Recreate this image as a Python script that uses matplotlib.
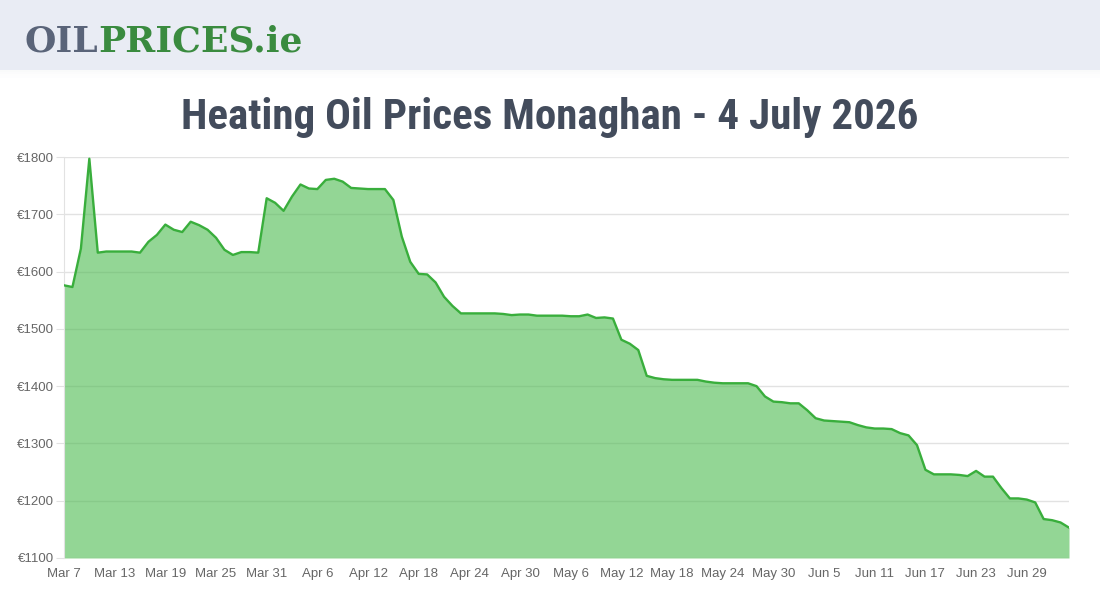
import pandas as pd
import matplotlib.pyplot as plt
from matplotlib.patches import Rectangle

# daily prices (EUR), 7 March -> 4 July 2026
dates = pd.date_range("2026-03-07", "2026-07-04", freq="D")
prices = [
    1576, 1573, 1640, 1797, 1633, 1635, 1635, 1635, 1635, 1633,
    1652, 1664, 1682, 1673, 1669, 1687, 1681, 1673, 1659, 1638,
    1629, 1634, 1634, 1633, 1728, 1720, 1706, 1731, 1752, 1745,
    1744, 1760, 1762, 1757, 1746, 1745, 1744, 1744, 1744, 1725,
    1661, 1617, 1596, 1595, 1581, 1556, 1540, 1527, 1527, 1527,
    1527, 1527, 1526, 1524, 1525, 1525, 1523, 1523, 1523, 1523,
    1522, 1522, 1525, 1519, 1520, 1518, 1481, 1474, 1463, 1418,
    1414, 1412, 1411, 1411, 1411, 1411, 1408, 1406, 1405, 1405,
    1405, 1405, 1400, 1382, 1373, 1372, 1370, 1370, 1358, 1344,
    1340, 1339, 1338, 1337, 1332, 1328, 1326, 1326, 1325, 1318,
    1314, 1297, 1254, 1246, 1246, 1246, 1245, 1243, 1252, 1242,
    1242, 1222, 1204, 1204, 1202, 1197, 1168, 1166, 1162, 1153,
]
tick_dates = pd.date_range("2026-03-07", "2026-07-04", freq="6D")
tick_labels = ["Mar 7", "Mar 13", "Mar 19", "Mar 25", "Mar 31", "Apr 6",
               "Apr 12", "Apr 18", "Apr 24", "Apr 30", "May 6", "May 12",
               "May 18", "May 24", "May 30", "Jun 5", "Jun 11", "Jun 17",
               "Jun 23", "Jun 29"]
y_ticks = [1100, 1200, 1300, 1400, 1500, 1600, 1700, 1800]
y_labels = ["€" + str(v) for v in y_ticks]

title = "Heating Oil Prices Monaghan - 4 July 2026"

fig = plt.figure(figsize=(11, 6), dpi=100)
fig.patch.set_facecolor("white")

# header band with logo
fig.patches.append(Rectangle((0, 1 - 70 / 600), 1, 70 / 600, transform=fig.transFigure,
                             facecolor="#e9ecf4", edgecolor="none", zorder=0))
for i, a in enumerate([0.05, 0.035, 0.02, 0.01]):
    fig.patches.append(Rectangle((0, 1 - (72 + 2 * i) / 600), 1, 2 / 600,
                                 transform=fig.transFigure, facecolor="#9aa0b0",
                                 alpha=a, edgecolor="none", zorder=0))
logo1 = fig.text(25 / 1100, 1 - 52 / 600, "OIL", color="#5a6479", fontsize=26,
                 fontweight="bold", family="DejaVu Serif", va="baseline")
fig.add_artist(plt.Annotation("PRICES.ie", xy=(1, 0), xycoords=logo1,
                              va="bottom", ha="left", color="#3a8b3f", fontsize=26,
                              fontweight="bold", family="DejaVu Serif"))

fig.text(0.5, 1 - 117 / 600, title, ha="center", va="center", fontsize=31,
         color="#434c5c", fontweight="bold", fontstretch="condensed",
         family=["Roboto Condensed", "Roboto"])

ax = fig.add_axes([64 / 1100, 42 / 600, 1005 / 1100, 401 / 600])
ax.fill_between(dates, prices, 1100, color="#4cbb4f", alpha=0.6, linewidth=0, zorder=2)
ax.plot(dates, prices, color="#39ae3c", linewidth=1.7, zorder=3,
        solid_joinstyle="round", solid_capstyle="round")

ax.set_xlim(dates[0], dates[-1])
ax.set_ylim(1100, 1800)
ax.set_yticks(y_ticks)
ax.set_yticklabels(y_labels, family="Liberation Sans")
ax.set_xticks(tick_dates)
ax.set_xticklabels(tick_labels, family="Liberation Sans")
ax.grid(axis="y", color="#e2e2e2", linewidth=1, zorder=1)
ax.set_axisbelow(True)
for side in ["top", "right", "bottom"]:
    ax.spines[side].set_visible(False)
ax.spines["left"].set_color("#e2e2e2")
ax.tick_params(axis="y", length=6, color="#e2e2e2", labelsize=9.5, labelcolor="#666666", pad=1)
ax.tick_params(axis="x", length=0, labelsize=9.5, labelcolor="#666666", pad=7)

fig.savefig("out.png", dpi=100)
